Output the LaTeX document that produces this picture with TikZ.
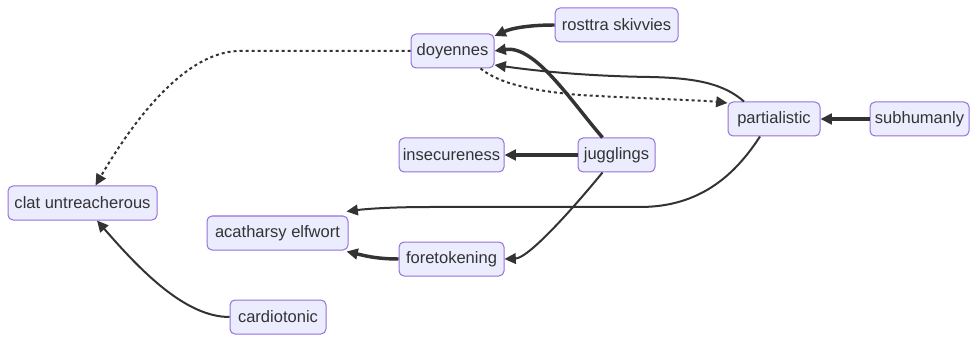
\documentclass[tikz,border=0pt]{standalone}
\usepackage{fontspec}
\setmainfont{Liberation Sans}
\usetikzlibrary{arrows.meta,calc}
\definecolor{nodefill}{HTML}{ECECFF}
\definecolor{nodeline}{HTML}{9370DB}
\definecolor{edgecol}{HTML}{333333}
\definecolor{txtcol}{HTML}{333333}
\begin{document}
\begin{tikzpicture}[x=0.75pt,y=-0.75pt,
  box/.style={draw=nodeline,fill=nodefill,line width=0.75pt,rounded corners=3.75pt,
    minimum height=25.5pt,inner sep=0pt,text=txtcol,font=\fontsize{12.4}{14}\selectfont},
  link/.style={draw=edgecol,line width=1.5pt,-{Triangle[length=8.5pt,width=8pt]}},
  thicklink/.style={link,line width=2.6pt},
  dotlink/.style={link,dash pattern=on 2.25pt off 2.25pt}]
\useasboundingbox (0,0) rectangle (978,342);

% nodes
\node[box,minimum width=62.25pt]  (doy)  at (452.5,51)  {doyennes};
\node[box,minimum width=92.25pt]  (rs)   at (616.5,25)  {rosttra skivvies};
\node[box,minimum width=69pt]     (par)  at (774,119)   {partialistic};
\node[box,minimum width=74.25pt]  (sub)  at (919.5,119) {subhumanly};
\node[box,minimum width=78.75pt]  (ins)  at (451.5,155) {insecureness};
\node[box,minimum width=57.75pt]  (jug)  at (616.5,155) {jugglings};
\node[box,minimum width=111.75pt] (clat) at (82.5,203)  {clat untreacherous};
\node[box,minimum width=105.75pt] (aca)  at (277.5,233) {acatharsy elfwort};
\node[box,minimum width=78.75pt]  (fore) at (451.5,259) {foretokening};
\node[box,minimum width=72pt]     (card) at (278,317)   {cardiotonic};

% connectors
\draw[thicklink] (rs.west) .. controls (530,25) and (512,28) .. ($(doy.east)+(0,-15)$);
\draw[thicklink] ($(jug.north)+(-14,0)$) .. controls (570,100) and (535,45) .. (doy.east);
\draw[link] ($(par.north)+(-30,0)$) .. controls (725,85) and (700,78) .. (650,77)
  .. controls (580,76) and (530,70) .. ($(doy.east)+(0,14)$);
\draw[dotlink] ($(doy.south)+(28,0)$) .. controls (495,80) and (520,90) .. (580,95)
  .. controls (650,99) and (700,100) .. ($(par.west)+(0,-16)$);
\draw[dotlink] (doy.west) -- (240,51) .. controls (180,51) and (125,135) .. ($(clat.north)+(13,0)$);
\draw[thicklink] (sub.west) -- (par.east);
\draw[thicklink] (jug.west) -- (ins.east);
\draw[link] ($(jug.south)+(-14,0)$) .. controls (580,200) and (530,258) .. (fore.east);
\draw[link] ($(par.south)+(-14,0)$) .. controls (735,175) and (700,207) .. (640,207)
  -- (430,207) .. controls (390,207) and (365,209) .. ($(aca.north east)+(-2,-4)$);
\draw[thicklink] (fore.west) .. controls (375,259) and (362,255) .. ($(aca.south east)+(-2,1)$);
\draw[link] (card.west) .. controls (185,317) and (140,270) .. ($(clat.south)+(14.5,0)$);
\end{tikzpicture}
\end{document}
